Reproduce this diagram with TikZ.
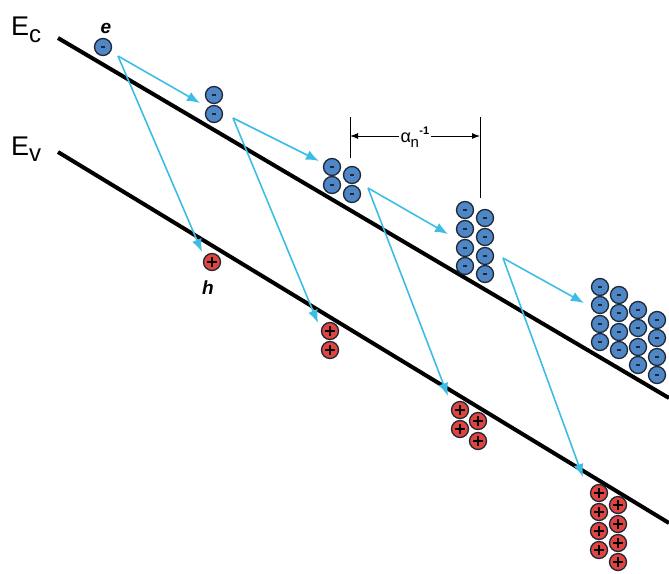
\documentclass[tikz,border=0pt]{standalone}
\usepackage{fontspec}
\setmainfont{Liberation Sans}
\usetikzlibrary{arrows.meta}

\definecolor{elecfill}{HTML}{4F86C6}
\definecolor{holefill}{HTML}{E0443F}
\definecolor{rim}{HTML}{1E2838}
\definecolor{hop}{HTML}{3EBDE4}

\tikzset{
  carrier/.style={circle, draw=rim, line width=1.3pt, minimum size=17pt, inner sep=0pt},
  electron/.style={carrier, fill=elecfill,
    path picture={\draw[rim, line width=1.5pt]
      ([xshift=-2.3pt]path picture bounding box.center) -- ++(4.6pt,0);}},
  hole/.style={carrier, fill=holefill,
    path picture={\draw[black, line width=1.1pt]
      ([xshift=-5pt]path picture bounding box.center) -- ++(10pt,0)
      ([yshift=-5pt]path picture bounding box.center) -- ++(0,10pt);}},
  band/.style={black, line width=4pt},
  hopline/.style={hop, line width=1.6pt, -{Latex[length=13pt,width=10pt]}},
  dimline/.style={black, line width=1pt},
  dimarrow/.style={black, line width=1pt, {Latex[length=8pt,width=6pt]}-{Latex[length=8pt,width=6pt]}},
  bandlabel/.style={inner sep=0pt, anchor=base west, font=\fontsize{27}{27}\selectfont},
  tag/.style={inner sep=0pt, font=\fontsize{19}{19}\selectfont\bfseries\itshape},
}

\begin{document}
\begin{tikzpicture}[x=1pt, y=-1pt]
\useasboundingbox (0,0) rectangle (669,573);

% conduction and valence band edges
\coordinate (ec0) at (58,38);
\coordinate (ec1) at (669,398);
\coordinate (ev0) at (58,152);
\coordinate (ev1) at (669,523);
\draw[band] (ec0) -- (ec1);
\draw[band] (ev0) -- (ev1);

\node[bandlabel] (lec) at (11,35) {E\raisebox{-7pt}{\fontsize{24}{24}\selectfont c}};
\node[bandlabel] (lev) at (11,155) {E\raisebox{-6pt}{\fontsize{24}{24}\selectfont v}};

% electrons
\foreach \n/\x/\y in {1/103/47,
    2a/214/95, 2b/214/114,
    3a/332/167, 3b/352/175, 3c/332/185, 3d/352/194,
    4a/465/210, 4b/465/229, 4c/465/248, 4d/465/266,
    4e/485/218, 4f/485/237, 4g/485/256, 4h/485/274,
    5a/600/287, 5b/600/305, 5c/600/324, 5d/600/342,
    5e/619/295, 5f/619/313, 5g/619/332, 5h/619/350,
    5i/638/310, 5j/638/328, 5k/638/347, 5l/638/365,
    5m/657/320, 5n/657/338, 5o/657/357, 5p/657/375}
  \node[electron] (e\n) at (\x,\y) {};

% holes
\foreach \n/\x/\y in {1/212/262,
    2a/330/331, 2b/330/350,
    3a/460/410, 3b/460/429, 3c/478/421, 3d/478/441,
    4a/599/493, 4b/599/512, 4c/599/531, 4d/599/550,
    4e/618/505, 4f/618/524, 4g/618/543, 4h/618/562}
  \node[hole] (h\n) at (\x,\y) {};

\node[tag] (le) at (106,28) {e};
\node[tag] (lh) at (208,288) {h};

% impact ionisation hops
\coordinate (s1) at (118,56);
\coordinate (t1r) at (200,103);
\coordinate (t1d) at (202,252);
\coordinate (s2) at (233,118);
\coordinate (t2r) at (319,161);
\coordinate (t2d) at (318,323);
\coordinate (s3) at (368,188);
\coordinate (t3r) at (448,234);
\coordinate (t3d) at (448,396);
\coordinate (s4) at (503,258);
\coordinate (t4r) at (584,303);
\coordinate (t4d) at (583,477);
\foreach \k in {1,2,3,4} {
  \draw[hopline] (s\k) -- (t\k r);
  \draw[hopline] (s\k) -- (t\k d);
}

% ionisation length marker
\coordinate (dl0) at (350,117);
\coordinate (dl1) at (350,158);
\coordinate (dr0) at (480,117);
\coordinate (dr1) at (480,198);
\coordinate (da) at (350,136);
\coordinate (db) at (480,136);
\draw[dimline] (dl0) -- (dl1);
\draw[dimline] (dr0) -- (dr1);
\draw[dimarrow] (da) -- (db);
\node[fill=white, inner xsep=2pt, inner ysep=2pt, font=\fontsize{18}{18}\selectfont] (alpha)
  at (415,137) {α\kern-0.5pt\raisebox{-5pt}{\fontsize{15}{15}\selectfont n}\kern0.5pt\raisebox{8pt}{\fontsize{11}{11}\selectfont\bfseries -1}};
\end{tikzpicture}
\end{document}
